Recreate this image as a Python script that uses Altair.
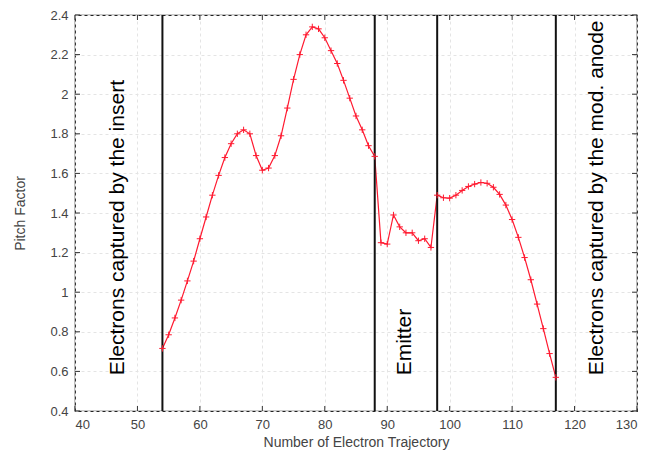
import altair as alt
import pandas as pd

traj = list(range(54, 118))
pitch = [0.716, 0.785, 0.87, 0.96, 1.057, 1.157, 1.27, 1.38, 1.49, 1.59,
         1.68, 1.75, 1.80, 1.82, 1.80, 1.69, 1.616, 1.627, 1.69, 1.79,
         1.93, 2.075, 2.20, 2.30, 2.34, 2.33, 2.285, 2.22, 2.155, 2.07,
         1.98, 1.89, 1.82, 1.74, 1.686, 1.25, 1.243, 1.39, 1.33, 1.30,
         1.30, 1.26, 1.27, 1.226, 1.49, 1.477, 1.475, 1.49, 1.514, 1.534,
         1.546, 1.554, 1.55, 1.53, 1.494, 1.44, 1.367, 1.277, 1.175, 1.063,
         0.94, 0.816, 0.69, 0.57]

boundaries = [54, 88, 98, 117]
label_x = [46.9, 92.9, 123.6]
label_text = ["Electrons captured by the insert", "Emitter",
              "Electrons captured by the mod. anode"]
label_y = [0.58, 0.58, 0.58]

x_ticks = [40, 50, 60, 70, 80, 90, 100, 110, 120, 130]
y_ticks = [0.4, 0.6, 0.8, 1.0, 1.2, 1.4, 1.6, 1.8, 2.0, 2.2, 2.4]

W, H = 562, 396

df = pd.DataFrame({"traj": traj, "pitch": pitch})
bdf = pd.DataFrame({"b": boundaries})
ldf = pd.DataFrame({"x": label_x, "y": label_y, "t": label_text})
xtdf = pd.DataFrame({"v": x_ticks})
ytdf = pd.DataFrame({"v": y_ticks})

xscale = alt.Scale(domain=[40, 130], nice=False, zero=False)
yscale = alt.Scale(domain=[0.4, 2.4], nice=False, zero=False)

xaxis = alt.Axis(values=x_ticks, title="Number of Electron Trajectory",
                 format="d", grid=True, ticks=False, domain=False,
                 labelOverlap=False, labelPadding=7, titlePadding=4)
yaxis = alt.Axis(values=y_ticks, title="Pitch Factor", format="~g",
                 grid=True, ticks=False, domain=False, labelOverlap=False,
                 labelPadding=7, titlePadding=22)


def X(field):
    return alt.X(field, scale=xscale, axis=xaxis)


def Y(field):
    return alt.Y(field, scale=yscale, axis=yaxis)


line = alt.Chart(df).mark_line(color="#ff1a30", strokeWidth=1.2).encode(
    x=X("traj:Q"), y=Y("pitch:Q"))

pts = alt.Chart(df).mark_point(
    shape="M-1,0L1,0M0,-1L0,1", filled=False, color="#ff1a30",
    size=40, strokeWidth=1, opacity=1).encode(x=X("traj:Q"), y=Y("pitch:Q"))

vlines = alt.Chart(bdf).mark_rule(color="#111111", strokeWidth=2).encode(
    x=X("b:Q"), y=alt.value(0), y2=alt.value(H))

labels = alt.Chart(ldf).mark_text(
    angle=270, align="left", baseline="middle", fontSize=21,
    font="Liberation Sans", color="#000000").encode(
    x=X("x:Q"), y=Y("y:Q"), text="t:N")

xt_bot = alt.Chart(xtdf).mark_rule(color="#333333").encode(
    x=X("v:Q"), y=alt.value(H), y2=alt.value(H - 5))
xt_top = alt.Chart(xtdf).mark_rule(color="#333333").encode(
    x=X("v:Q"), y=alt.value(0), y2=alt.value(5))
yt_left = alt.Chart(ytdf).mark_rule(color="#333333").encode(
    y=Y("v:Q"), x=alt.value(0), x2=alt.value(5))
yt_right = alt.Chart(ytdf).mark_rule(color="#333333").encode(
    y=Y("v:Q"), x=alt.value(W), x2=alt.value(W - 5))

chart = alt.layer(line, vlines, pts, labels, xt_bot, xt_top, yt_left, yt_right).properties(
    width=W, height=H,
    padding={"left": 67, "top": 7, "right": 8, "bottom": 45},
    autosize=alt.AutoSizeParams(type="none"),
    background="white",
).configure_view(
    stroke="#222222", strokeWidth=1.2
).configure_axis(
    gridColor="#e4e4e4", gridDash=[3, 3], gridWidth=1,
    labelFont="Liberation Sans", titleFont="Liberation Sans",
    labelFontSize=13, titleFontSize=14, titleFontWeight="normal",
    labelColor="#444444", titleColor="#444444"
)

chart.save("out.html", embed_options={"renderer": "svg", "actions": False})
